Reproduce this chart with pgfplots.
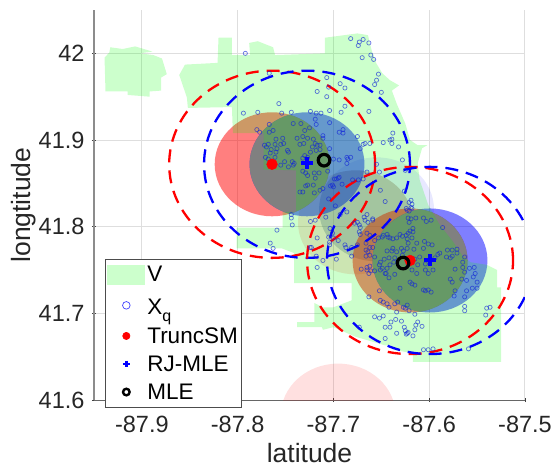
\documentclass[border=0pt]{standalone}
\usepackage{fontspec}
\setmainfont{Liberation Sans}
\usepackage{pgfplots}
\pgfplotsset{compat=1.18}
\definecolor{vgreen}{RGB}{0,255,0}
\definecolor{ptblue}{RGB}{20,40,215}
\begin{document}
\begin{tikzpicture}
\useasboundingbox (-94pt,-66pt) rectangle (459pt,400pt);
\begin{axis}[
  scale only axis, width=431pt, height=390pt,
  xmin=-87.95, xmax=-87.5, ymin=41.6, ymax=42.05,
  axis x line=bottom, axis y line=left,
  x axis line style={-, draw=black!60, line width=0.9pt},
  y axis line style={-, draw=black!45, line width=1.8pt},
  xtick={-87.9,-87.8,-87.7,-87.6,-87.5},
  xticklabels={-87.9,-87.8,-87.7,-87.6,-87.5},
  ytick={41.6,41.7,41.8,41.9,42},
  yticklabels={41.6,41.7,41.8,41.9,42},
  tick style={draw=black!75, line width=0.5pt},
  major tick length=4pt,
  grid=major,
  major grid style={draw=black!13, line width=1pt},
  ticklabel style={font=\fontsize{23.5}{25}\selectfont, text=black!85},
  xticklabel style={yshift=-11pt},
  yticklabel style={xshift=-4pt},
  xlabel={latitude}, ylabel={longtitude},
  label style={font=\fontsize{26.5}{28}\selectfont, text=black!85},
  xlabel style={at={(axis description cs:0.5,0)}, anchor=base, yshift=-62pt},
  ylabel style={at={(axis description cs:0,0.5)}, anchor=south, yshift=54pt},
  legend cell align=left,
  legend style={at={(0.0255,0.3615)}, anchor=north west, draw=black!70, line width=0.7pt,
    fill=white, font=\fontsize{22.5}{24}\selectfont, inner xsep=2pt, inner ysep=5pt,
    /tikz/every even column/.append style={column sep=0pt}, row sep=7pt},
  legend image code/.code={\draw[#1] plot coordinates {(19pt,0pt)};},
]
% legend
\addlegendimage{legend image code/.code={\fill[draw=none, fill=vgreen, fill opacity=0.2] (0pt,-10pt) rectangle (38pt,10pt);}}
\addlegendentry{V}
\addlegendimage{only marks, mark=o, mark size=3.8pt, mark options={draw=blue!75, line width=0.7pt}}
\addlegendentry{\rule[-9.5pt]{0pt}{30pt}X\raisebox{-7pt}{\fontsize{16}{17}\selectfont q}}
\addlegendimage{only marks, mark=*, mark size=3.6pt, mark options={draw=red, fill=red}}
\addlegendentry{TruncSM}
\addlegendimage{only marks, mark=+, mark size=3.4pt, mark options={draw=blue, line width=2.8pt}}
\addlegendentry{RJ-MLE}
\addlegendimage{only marks, mark=o, mark size=3.3pt, mark options={draw=black, line width=2.4pt}}
\addlegendentry{MLE}

% faint components
\fill[red, fill opacity=0.12] (axis cs:-87.695,41.582) ellipse [x radius=0.06, y radius=0.06];
\fill[red, fill opacity=0.13] (axis cs:-87.677,41.805) ellipse [x radius=0.06, y radius=0.06];
\fill[blue, fill opacity=0.09] (axis cs:-87.655,41.820) ellipse [x radius=0.06, y radius=0.06];
\begin{scope}
\clip (axis cs:-87.677,41.805) ellipse [x radius=0.06, y radius=0.06];
\fill[black!45, fill opacity=0.3] (axis cs:-87.655,41.820) ellipse [x radius=0.06, y radius=0.06];
\end{scope}
% main components
\fill[red, fill opacity=0.5] (axis cs:-87.764,41.872) ellipse [x radius=0.06, y radius=0.06];
\fill[blue, fill opacity=0.5] (axis cs:-87.7276,41.872) ellipse [x radius=0.06, y radius=0.06];
\begin{scope}
\clip (axis cs:-87.764,41.872) ellipse [x radius=0.06, y radius=0.06];
\fill[black!50] (axis cs:-87.7276,41.872) ellipse [x radius=0.06, y radius=0.06];
\end{scope}
\fill[red, fill opacity=0.5] (axis cs:-87.62,41.761) ellipse [x radius=0.06, y radius=0.06];
\fill[blue, fill opacity=0.5] (axis cs:-87.5992,41.761) ellipse [x radius=0.06, y radius=0.06];
\begin{scope}
\clip (axis cs:-87.62,41.761) ellipse [x radius=0.06, y radius=0.06];
\fill[black!50] (axis cs:-87.5992,41.761) ellipse [x radius=0.06, y radius=0.06];
\end{scope}

% domain V
\addplot[forget plot, draw=none, fill=vgreen, fill opacity=0.2] coordinates {
(-87.939,41.995)(-87.934,42.001)(-87.933,42.007)(-87.920,42.005)(-87.907,42.008)(-87.889,42.002)
(-87.902,42.000)(-87.888,41.998)(-87.879,41.994)(-87.874,41.976)(-87.880,41.972)(-87.880,41.957)
(-87.892,41.956)(-87.892,41.950)(-87.915,41.952)(-87.915,41.956)(-87.938,41.956)} -- cycle;
\addplot[forget plot, draw=none, fill=vgreen, fill opacity=0.2] coordinates {
(-87.861,41.975)(-87.855,41.987)(-87.821,41.989)(-87.820,42.018)(-87.806,42.018)(-87.806,41.998)
(-87.787,41.998)(-87.788,42.012)(-87.779,42.014)(-87.763,42.007)(-87.761,41.998)(-87.709,42.000)
(-87.709,42.018)(-87.675,42.023)(-87.664,42.021)(-87.660,42.003)(-87.655,41.988)(-87.649,41.977)
(-87.641,41.969)(-87.6315,41.963)(-87.639,41.957)(-87.634,41.942)(-87.625,41.919)(-87.620,41.900)
(-87.612,41.894)(-87.602,41.894)(-87.6075,41.8905)(-87.612,41.873)(-87.610,41.854)(-87.601,41.825)
(-87.589,41.802)(-87.576,41.784)(-87.565,41.766)(-87.557,41.759)(-87.540,41.756)(-87.529,41.750)
(-87.529,41.730)(-87.525,41.730)(-87.525,41.644)(-87.617,41.644)(-87.617,41.654)(-87.638,41.658)
(-87.641,41.663)(-87.646,41.663)(-87.677,41.673)(-87.700,41.684)(-87.711,41.681)(-87.712,41.684)
(-87.738,41.684)(-87.738,41.690)(-87.720,41.690)(-87.720,41.712)(-87.711,41.707)(-87.700,41.707)
(-87.681,41.715)(-87.681,41.735)(-87.741,41.735)(-87.741,41.7695)(-87.754,41.775)(-87.801,41.775)
(-87.801,41.799)(-87.753,41.799)(-87.753,41.817)(-87.739,41.817)(-87.739,41.865)(-87.773,41.866)
(-87.773,41.908)(-87.805,41.908)(-87.806,41.938)(-87.852,41.937)(-87.853,41.949)} -- cycle;

% dashed contours
\draw[red, line width=2.3pt, dash pattern=on 13pt off 8pt] (axis cs:-87.764,41.872) ellipse [x radius=0.1075, y radius=0.108];
\draw[blue, line width=2.3pt, dash pattern=on 13pt off 8pt] (axis cs:-87.7276,41.872) ellipse [x radius=0.1075, y radius=0.108];
\draw[red, line width=2.3pt, dash pattern=on 13pt off 8pt] (axis cs:-87.62,41.761) ellipse [x radius=0.1075, y radius=0.108];
\draw[blue, line width=2.3pt, dash pattern=on 13pt off 8pt] (axis cs:-87.5992,41.761) ellipse [x radius=0.1075, y radius=0.108];

% observations
\addplot[forget plot, only marks, mark=o, mark size=2.1pt, mark options={draw=ptblue, draw opacity=0.65, line width=0.7pt}] table {
-87.682 42.017
-87.669 42.016
-87.673 42.013
-87.674 42.009
-87.663 42.012
-87.661 41.998
-87.670 41.995
-87.658 41.993
-87.653 41.976
-87.655 41.969
-87.657 41.964
-87.650 41.955
-87.792 42.000
-87.767 41.977
-87.707 41.972
-87.693 41.965
-87.688 41.960
-87.705 41.961
-87.717 41.956
-87.707 41.950
-87.688 41.939
-87.692 41.932
-87.663 41.933
-87.757 41.942
-87.794 41.931
-87.779 41.932
-87.754 41.931
-87.744 41.932
-87.724 41.933
-87.718 41.931
-87.713 41.931
-87.704 41.934
-87.704 41.920
-87.719 41.924
-87.718 41.918
-87.767 41.918
-87.742 41.919
-87.734 41.919
-87.780 41.912
-87.777 41.909
-87.767 41.909
-87.763 41.911
-87.730 41.911
-87.725 41.914
-87.732 41.904
-87.738 41.902
-87.760 41.901
-87.753 41.902
-87.727 41.902
-87.721 41.901
-87.711 41.902
-87.719 41.896
-87.731 41.896
-87.735 41.895
-87.772 41.894
-87.768 41.895
-87.770 41.892
-87.761 41.895
-87.759 41.890
-87.755 41.895
-87.752 41.896
-87.760 41.886
-87.748 41.888
-87.747 41.886
-87.765 41.889
-87.766 41.885
-87.761 41.880
-87.722 41.892
-87.718 41.888
-87.714 41.894
-87.714 41.889
-87.717 41.894
-87.724 41.886
-87.730 41.882
-87.727 41.880
-87.732 41.879
-87.771 41.880
-87.768 41.878
-87.751 41.875
-87.743 41.875
-87.741 41.873
-87.755 41.871
-87.747 41.869
-87.742 41.871
-87.732 41.864
-87.727 41.859
-87.729 41.862
-87.720 41.862
-87.715 41.862
-87.719 41.856
-87.727 41.848
-87.729 41.847
-87.721 41.848
-87.732 41.840
-87.735 41.840
-87.720 41.839
-87.711 41.844
-87.714 41.842
-87.703 41.847
-87.699 41.855
-87.695 41.856
-87.694 41.877
-87.704 41.890
-87.694 41.909
-87.690 41.912
-87.690 41.908
-87.675 41.904
-87.711 41.905
-87.672 41.890
-87.669 41.895
-87.667 41.896
-87.662 41.896
-87.648 41.897
-87.641 41.900
-87.639 41.901
-87.639 41.896
-87.632 41.892
-87.638 41.908
-87.628 41.877
-87.625 41.865
-87.700 41.878
-87.686 41.880
-87.682 41.880
-87.685 41.878
-87.686 41.873
-87.706 41.864
-87.705 41.832
-87.698 41.824
-87.655 41.872
-87.665 41.863
-87.652 41.863
-87.669 41.855
-87.674 41.854
-87.680 41.854
-87.697 41.855
-87.694 41.857
-87.691 41.849
-87.701 41.848
-87.700 41.846
-87.651 41.842
-87.646 41.829
-87.626 41.841
-87.619 41.8305
-87.621 41.828
-87.618 41.826
-87.618 41.821
-87.624 41.821
-87.621 41.818
-87.744 41.814
-87.744 41.810
-87.743 41.802
-87.693 41.814
-87.686 41.817
-87.708 41.811
-87.724 41.806
-87.719 41.8075
-87.665 41.814
-87.668 41.811
-87.667 41.8075
-87.664 41.805
-87.659 41.8075
-87.675 41.805
-87.673 41.802
-87.678 41.804
-87.672 41.799
-87.673 41.794
-87.672 41.791
-87.665 41.7925
-87.662 41.790
-87.657 41.784
-87.653 41.787
-87.649 41.788
-87.641 41.787
-87.634 41.787
-87.7036 41.798
-87.701 41.7925
-87.705 41.788
-87.700 41.787
-87.695 41.784
-87.704 41.782
-87.717 41.787
-87.723 41.776
-87.718 41.766
-87.704 41.779
-87.688 41.779
-87.687 41.776
-87.681 41.776
-87.675 41.779
-87.666 41.781
-87.662 41.776
-87.659 41.776
-87.666 41.773
-87.664 41.771
-87.662 41.767
-87.666 41.766
-87.681 41.766
-87.697 41.7625
-87.717 41.753
-87.671 41.751
-87.665 41.753
-87.662 41.7545
-87.665 41.750
-87.661 41.749
-87.663 41.746
-87.657 41.749
-87.651 41.759
-87.652 41.756
-87.649 41.752
-87.644 41.752
-87.641 41.756
-87.639 41.772
-87.644 41.772
-87.642 41.764
-87.647 41.7625
-87.634 41.771
-87.642 41.741
-87.646 41.746
-87.652 41.726
-87.663 41.719
-87.759 41.796
-87.766 41.781
-87.763 41.775
-87.7244 41.776
-87.711 41.761
-87.659 41.809
-87.619 41.822
-87.623 41.819
-87.622 41.810
-87.619 41.809
-87.621 41.805
-87.614 41.810
-87.606 41.810
-87.603 41.806
-87.598 41.8075
-87.586 41.799
-87.617 41.798
-87.620 41.795
-87.622 41.7925
-87.617 41.794
-87.6305 41.791
-87.628 41.789
-87.624 41.790
-87.618 41.787
-87.644 41.791
-87.648 41.790
-87.643 41.788
-87.638 41.786
-87.605 41.783
-87.623 41.786
-87.622 41.781
-87.613 41.781
-87.601 41.780
-87.597 41.779
-87.606 41.775
-87.616 41.774
-87.623 41.775
-87.629 41.775
-87.627 41.772
-87.638 41.775
-87.657 41.765
-87.591 41.768
-87.589 41.7695
-87.594 41.764
-87.581 41.773
-87.576 41.773
-87.571 41.774
-87.571 41.7695
-87.576 41.766
-87.582 41.765
-87.578 41.764
-87.563 41.765
-87.565 41.759
-87.573 41.751
-87.558 41.752
-87.553 41.753
-87.565 41.753
-87.563 41.7475
-87.552 41.746
-87.554 41.742
-87.550 41.736
-87.555 41.729
-87.550 41.729
-87.566 41.7395
-87.561 41.738
-87.578 41.7395
-87.576 41.736
-87.573 41.726
-87.574 41.720
-87.561 41.726
-87.563 41.719
-87.563 41.708
-87.563 41.703
-87.540 41.706
-87.541 41.698
-87.604 41.757
-87.612 41.756
-87.604 41.750
-87.596 41.750
-87.613 41.746
-87.601 41.746
-87.620 41.736
-87.618 41.734
-87.615 41.7325
-87.606 41.727
-87.604 41.726
-87.601 41.727
-87.598 41.7245
-87.6305 41.729
-87.651 41.715
-87.648 41.713
-87.644 41.711
-87.642 41.707
-87.636 41.711
-87.634 41.7015
-87.627 41.707
-87.623 41.7095
-87.621 41.703
-87.625 41.706
-87.633 41.713
-87.636 41.764
-87.637 41.759
-87.628 41.767
-87.651 41.750
-87.645 41.746
-87.636 41.745
-87.622 41.756
-87.615 41.7625
-87.610 41.765
-87.618 41.750
-87.657 41.696
-87.652 41.6945
-87.648 41.697
-87.635 41.693
-87.629 41.691
-87.615 41.699
-87.640 41.690
-87.646 41.684
-87.641 41.684
-87.6075 41.685
-87.612 41.690
-87.614 41.6865
-87.615 41.681
-87.626 41.684
-87.625 41.680
-87.634 41.677
-87.623 41.677
-87.622 41.678
-87.624 41.676
-87.617 41.674
-87.646 41.671
-87.673 41.684
-87.606 41.658
-87.601 41.658
-87.596 41.659
-87.559 41.659
-87.5365 41.707
};

% estimates
\addplot[forget plot, only marks, mark=*, mark size=5.4pt, mark options={draw=red, fill=red}] coordinates {(-87.7641,41.872)(-87.620,41.761)};
\addplot[forget plot, only marks, mark=+, mark size=6pt, mark options={draw=blue, line width=4pt}] coordinates {(-87.7276,41.873)(-87.5992,41.7614)};
\addplot[forget plot, only marks, mark=o, mark size=5.8pt, mark options={draw=black, line width=3.2pt}] coordinates {(-87.7098,41.8767)(-87.6273,41.758)};
\end{axis}
\end{tikzpicture}
\end{document}
